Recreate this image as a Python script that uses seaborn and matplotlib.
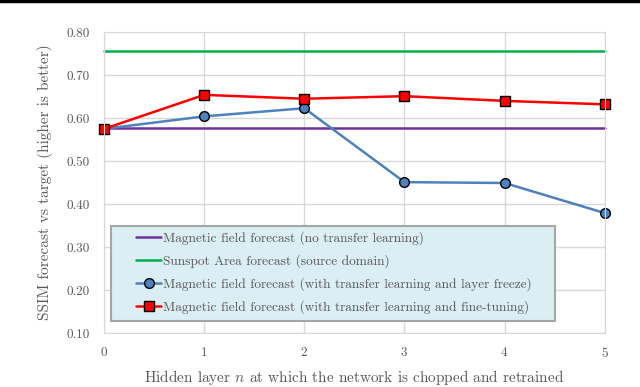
import matplotlib
matplotlib.use("Agg")
import matplotlib.pyplot as plt
from matplotlib.patches import Rectangle
import seaborn as sns
import pandas as pd

# values
layers = [0, 1, 2, 3, 4, 5]
no_transfer = [0.576, 0.576, 0.576, 0.576, 0.576, 0.576]
sunspot_source = [0.757, 0.757, 0.757, 0.757, 0.757, 0.757]
layer_freeze = [0.575, 0.604, 0.623, 0.451, 0.449, 0.379]
fine_tuning = [0.575, 0.654, 0.645, 0.651, 0.640, 0.632]

labels = [
    "Magnetic field forecast (no transfer learning)",
    "Sunspot Area forecast (source domain)",
    "Magnetic field forecast (with transfer learning and layer freeze)",
    "Magnetic field forecast (with transfer learning and fine-tuning)",
]

sns.set_style("white")
plt.rcParams["font.family"] = ["cmr10", "DejaVu Serif"]
plt.rcParams["mathtext.fontset"] = "cm"
plt.rcParams["axes.formatter.use_mathtext"] = True

text_col = "#595959"
fig = plt.figure(figsize=(6.4, 3.87), dpi=100)
ax = fig.add_axes([0.1625, 0.1395, 0.7825, 0.7775])

df = pd.DataFrame({"x": layers, "a": no_transfer, "b": sunspot_source,
                   "c": layer_freeze, "d": fine_tuning})

sns.lineplot(data=df, x="x", y="a", ax=ax, color="#7030a0", lw=1.8, label=labels[0])
sns.lineplot(data=df, x="x", y="b", ax=ax, color="#00b050", lw=1.8, label=labels[1])
sns.lineplot(data=df, x="x", y="c", ax=ax, color="#4f81bd", lw=1.8, marker="o",
             markersize=7, markerfacecolor="#4f81bd", markeredgecolor="black",
             markeredgewidth=1.0, label=labels[2])
sns.lineplot(data=df, x="x", y="d", ax=ax, color="#ff0000", lw=1.8, marker="s",
             markersize=7, markerfacecolor="#ff0000", markeredgecolor="black",
             markeredgewidth=1.0, label=labels[3])
for ln in ax.lines:
    ln.set_clip_on(False)

ax.set_xlim(0, 5)
ax.set_ylim(0.10, 0.80)
ax.set_xticks(layers)
ax.set_yticks([0.1, 0.2, 0.3, 0.4, 0.5, 0.6, 0.7, 0.8])
ax.set_yticklabels([f"{v:.2f}" for v in ax.get_yticks()])
ax.grid(True, color="#d9d9d9", lw=1.0)
for s in ax.spines.values():
    s.set_color("#d9d9d9")
ax.tick_params(colors=text_col, labelsize=9.5, length=0, pad=10)
ax.tick_params(axis="x", pad=9)

ax.set_xlabel(r"Hidden layer $n$ at which the network is chopped and retrained",
              color=text_col, fontsize=11, labelpad=6)
ax.set_ylabel("SSIM forecast vs target (higher is better)", color=text_col,
              fontsize=11, labelpad=10)

# legend box drawn separately so the entries can sit indented inside it
box = Rectangle((0.014, 0.040), 0.886, 0.315, transform=ax.transAxes,
                facecolor="#daeef3", edgecolor="#a6a6a6", lw=1.5, zorder=5,
                clip_on=False)
ax.add_patch(box)
leg = ax.legend(loc="upper left", bbox_to_anchor=(0.064, 0.337), frameon=False,
                fontsize=9.6, handlelength=1.9, handletextpad=0.15,
                borderpad=0, labelspacing=0.68, borderaxespad=0)
leg.set_zorder(6)
for t in leg.get_texts():
    t.set_color(text_col)

# thin black band along the top edge of the image
fig.add_artist(plt.Line2D([0, 1], [0.997, 0.997], color="black", lw=2.5,
                          transform=fig.transFigure))

fig.savefig("out.png", dpi=100)
